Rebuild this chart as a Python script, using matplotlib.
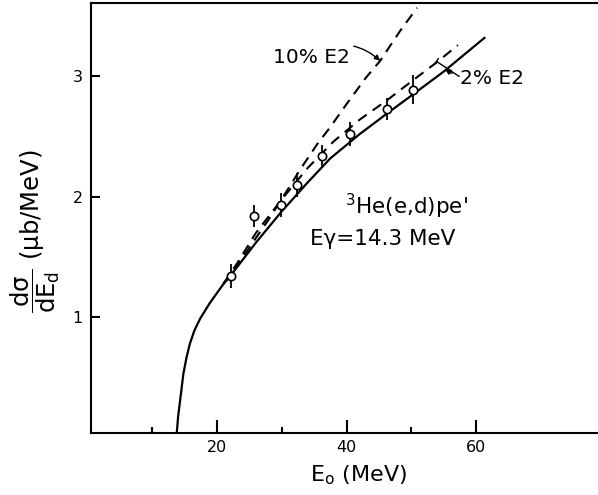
import matplotlib
matplotlib.use('Agg')
import matplotlib.pyplot as plt

plt.rcParams['font.family'] = ['DejaVu Sans']
plt.rcParams['mathtext.default'] = 'regular'

# measured points (E0 in MeV, dsigma/dEd in mub/MeV)
e0_data = [22.2, 25.7, 29.9, 32.4, 36.2, 40.5, 46.3, 50.3]
xs_data = [1.34, 1.84, 1.93, 2.10, 2.34, 2.52, 2.73, 2.89]
xs_err = [0.10, 0.09, 0.10, 0.10, 0.09, 0.10, 0.09, 0.12]

# calculation, no E2 (solid)
e0_solid = [13.8, 14.0, 14.3, 14.8, 15.3, 15.8, 16.5, 17.4, 18.9, 20.9, 23.0,
            26.0, 30.0, 34.0, 37.5, 42.0, 46.2, 50.0, 55.0, 61.3]
xs_solid = [0.05, 0.18, 0.31, 0.53, 0.67, 0.78, 0.89, 0.99, 1.12, 1.27, 1.41,
            1.62, 1.88, 2.12, 2.32, 2.52, 2.69, 2.84, 3.04, 3.32]

# 2% E2 (dashed)
e0_e2_2 = [21.0, 23.0, 26.0, 30.0, 34.0, 38.0, 42.0, 46.2, 50.3, 54.0, 57.2]
xs_e2_2 = [1.28, 1.44, 1.70, 1.98, 2.24, 2.46, 2.64, 2.80, 2.97, 3.12, 3.26]

# 10% E2 (dashed)
e0_e2_10 = [21.0, 22.3, 25.0, 28.2, 30.2, 33.0, 35.5, 37.5, 40.0, 43.0, 45.2,
            48.3, 50.9]
xs_e2_10 = [1.28, 1.36, 1.58, 1.83, 2.00, 2.24, 2.44, 2.58, 2.77, 2.99, 3.13,
            3.38, 3.57]

fig = plt.figure(figsize=(5.98, 4.95), dpi=100)
ax = fig.add_axes([0.1522, 0.1253, 0.8478, 0.8687])

ax.plot(e0_solid, xs_solid, color='black', lw=1.6)
ax.plot(e0_e2_2, xs_e2_2, color='black', lw=1.5, dashes=(5, 3.5))
ax.plot(e0_e2_10, xs_e2_10, color='black', lw=1.5, dashes=(5, 3.5))

ax.errorbar(e0_data, xs_data, yerr=xs_err, fmt='o', color='black',
            mfc='white', mec='black', ms=6, mew=1.2, elinewidth=1.3,
            capsize=0, zorder=5)

# labels inside the plot
ax.annotate('10% E2', xy=(45.2, 3.13), xytext=(28.6, 3.16),
            ha='left', va='center', fontsize=14.5,
            arrowprops=dict(arrowstyle='-|>', color='black', lw=1.0,
                            mutation_scale=8,
                            connectionstyle='arc3,rad=-0.4',
                            shrinkA=1, shrinkB=0))
ax.annotate('', xy=(53.9, 3.125), xytext=(57.4, 3.0),
            arrowprops=dict(arrowstyle='-[, widthB=0.25, lengthB=0',
                            color='black', lw=1.0, shrinkA=0, shrinkB=0))
ax.annotate('', xy=(55.2, 3.06), xytext=(56.3, 3.025),
            arrowprops=dict(arrowstyle='-|>', color='black', lw=1.0,
                            mutation_scale=8, shrinkA=0, shrinkB=0))
ax.text(57.6, 2.98, '2% E2', ha='left', va='center', fontsize=14.5)

ax.text(39.8, 1.86, "$^3$He(e,d)pe'", ha='left', va='baseline', fontsize=15.5)
ax.text(34.4, 1.60, 'E\u03b3=14.3 MeV', ha='left', va='baseline', fontsize=15.5)

ax.set_xlim(0.54, 78.84)
ax.set_ylim(0.04, 3.61)

ax.set_xticks([20, 40, 60])
ax.set_xticks([10, 30, 50], minor=True)
ax.set_yticks([1, 2, 3])
ax.tick_params(axis='x', which='major', direction='in', length=9.5, width=1.5,
               labelsize=11.5, pad=5)
ax.tick_params(axis='x', which='minor', direction='in', length=4.5, width=1.5)
ax.tick_params(axis='y', direction='in', length=6.5, width=1.5,
               labelsize=11.5, pad=6)

for side in ['left', 'bottom', 'top']:
    ax.spines[side].set_linewidth(1.5)
ax.spines['right'].set_visible(False)

ax.set_xlabel('E$_o$ (MeV)', fontsize=16)
ax.xaxis.set_label_coords(0.527, -0.070)
ax.set_ylabel(r'$\dfrac{d\sigma}{dE_d}$ ($\mu$b/MeV)', fontsize=17.5)
ax.yaxis.set_label_coords(-0.058, 0.47)

fig.savefig('out.png', dpi=100)
